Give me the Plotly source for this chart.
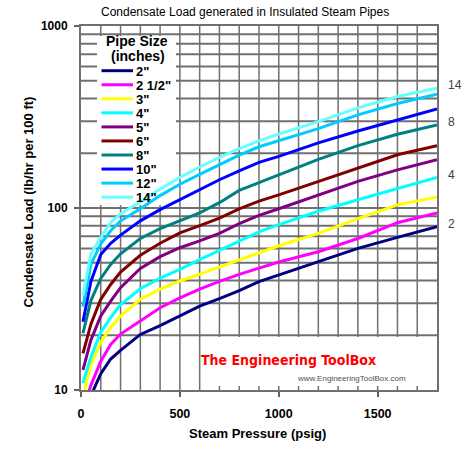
import math
import plotly.graph_objects as go

# ---- data ----
pressure = [10, 50, 100, 150, 200, 300, 400, 500, 600, 700, 800, 900, 1000, 1200, 1400, 1600, 1800]

load_2in = [6.5, 9.3, 12.3, 14.8, 16.5, 20.2, 22.6, 25.6, 28.9, 31.8, 35.2, 39.4, 42.8, 51, 60, 69, 79]
load_2_5in = [7.8, 10.6, 14.4, 17.8, 20.3, 24.0, 28.3, 32.1, 35.8, 39.5, 43.2, 46.7, 50.5, 57.5, 68, 83, 94]
load_3in = [9.2, 13.8, 18.3, 22.0, 25.5, 31.5, 35.8, 39.7, 43.3, 47.3, 52, 56.5, 62, 72.5, 87.5, 104, 115]
load_4in = [10.9, 15.2, 20.8, 25.0, 29.5, 36.0, 41.2, 46.0, 52, 58.5, 66, 74, 81, 96, 111, 128, 147]
load_5in = [12.9, 18.8, 25.5, 30.8, 36.5, 46.5, 54, 60.5, 66, 72.5, 82, 91, 99, 118, 140, 162, 184]
load_6in = [15.9, 23, 31.5, 38, 44.5, 55, 64, 73, 80, 88, 99, 109, 118, 140, 166, 196, 220]
load_8in = [20.5, 31, 41, 49, 56, 68, 77, 85, 94, 107, 125, 138, 152, 185, 220, 254, 286]
load_10in = [23.7, 39.5, 55.5, 64, 71, 85, 98, 111, 127, 143, 160, 178, 192, 228, 265, 305, 350]
load_12in = [28.7, 49, 63.5, 75, 85, 99, 117, 135, 153, 173, 195, 217, 235, 273, 325, 375, 422]
load_14in = [33, 56, 69, 83, 93, 108, 127, 147, 168, 190, 212, 234, 255, 298, 355, 410, 455]

pipe_sizes = ['2"', '2 1/2"', '3"', '4"', '5"', '6"', '8"', '10"', '12"', '14"']
series = [load_2in, load_2_5in, load_3in, load_4in, load_5in, load_6in,
          load_8in, load_10in, load_12in, load_14in]
colors = ['#000080', '#FF00FF', '#FFFF00', '#00FFFF', '#800080', '#800000',
          '#008080', '#0000FF', '#00CCFF', '#66FFFF']
end_labels = {'2"': '2', '4"': '4', '8"': '8', '14"': '14'}

x_grid = list(range(100, 1800, 100))
x_major = [0, 500, 1000, 1500]
y_grid = [20, 30, 40, 50, 60, 70, 80, 90, 100, 200, 300, 400, 500, 600, 700, 800, 900]
y_major = [10, 100, 1000]

FONT = 'Liberation Sans, Arial, sans-serif'
GRID = '#707070'
Y_RANGE = [1, 3]  # log10 range of the y axis

# plot area geometry in pixels (for placing layout decorations)
L, R, T, B = 81, 33, 26, 73
W, H = 470, 463
PW, PH = W - L - R, H - T - B


def px(xp):
    return (xp - L) / PW


def py(yp):
    return (T + PH - yp) / PH


fig = go.Figure()

for name, vals, col in zip(pipe_sizes, series, colors):
    fig.add_trace(go.Scatter(x=pressure, y=vals, mode='lines', name=name,
                             line=dict(color=col, width=3), showlegend=False))

shapes = []
annotations = []

# grid lines (drawn as shapes below the traces)
for v in x_grid:
    shapes.append(dict(type='line', xref='x', yref='paper', x0=v, x1=v, y0=0, y1=1,
                       line=dict(color=GRID, width=1.5), layer='below'))
for v in y_grid:
    yp = (math.log10(v) - Y_RANGE[0]) / (Y_RANGE[1] - Y_RANGE[0])
    shapes.append(dict(type='line', xref='paper', yref='paper', x0=0, x1=1, y0=yp, y1=yp,
                       line=dict(color=GRID, width=2), layer='below'))

# white boxes behind legend and watermark (above grid, below traces)
shapes.append(dict(type='rect', xref='paper', yref='paper',
                   x0=px(97), x1=px(176), y0=py(205), y1=py(36),
                   fillcolor='white', line=dict(width=0), layer='below'))
shapes.append(dict(type='rect', xref='paper', yref='paper',
                   x0=px(201), x1=px(435), y0=py(386), y1=py(337),
                   fillcolor='white', line=dict(width=0), layer='below'))

# manual legend
annotations.append(dict(text='<b>Pipe Size</b>', x=px(136.5), y=py(41), xref='paper', yref='paper',
                        showarrow=False, xanchor='center', yanchor='middle',
                        font=dict(family=FONT, size=14, color='black')))
annotations.append(dict(text='<b>(inches)</b>', x=px(137.5), y=py(55.5), xref='paper', yref='paper',
                        showarrow=False, xanchor='center', yanchor='middle',
                        font=dict(family=FONT, size=14, color='black')))
for i, (name, col) in enumerate(zip(pipe_sizes, colors)):
    yy = 70.7 + 14.05 * i
    shapes.append(dict(type='line', xref='paper', yref='paper',
                       x0=px(101.5), x1=px(133), y0=py(yy), y1=py(yy),
                       line=dict(color=col, width=3), layer='above'))
    annotations.append(dict(text='<b>' + name + '</b>', x=px(134), y=py(yy + 0.5),
                            xref='paper', yref='paper', showarrow=False,
                            xanchor='left', yanchor='middle',
                            font=dict(family=FONT, size=13, color='black')))

# right-hand end labels
for name, vals in zip(pipe_sizes, series):
    if name in end_labels:
        annotations.append(dict(text=end_labels[name], x=pressure[-1], y=math.log10(vals[-1]),
                                xref='x', yref='y', showarrow=False, xanchor='left',
                                yanchor='middle', xshift=9, yshift=3,
                                font=dict(family=FONT, size=12, color='#404040')))

# title and axis titles
annotations.append(dict(text='Condensate Load generated in Insulated Steam Pipes',
                        x=px(245), y=py(12), xref='paper', yref='paper', showarrow=False,
                        xanchor='center', yanchor='middle',
                        font=dict(family=FONT, size=12, color='black')))
annotations.append(dict(text='<b>Steam Pressure (psig)</b>', x=px(257.5), y=py(433),
                        xref='paper', yref='paper', showarrow=False,
                        xanchor='center', yanchor='middle',
                        font=dict(family=FONT, size=13, color='black')))
annotations.append(dict(text='<b>Condensate Load (lb/hr per 100 ft)</b>', x=px(28.5), y=py(202),
                        xref='paper', yref='paper', showarrow=False, textangle=-90,
                        xanchor='center', yanchor='middle',
                        font=dict(family=FONT, size=13, color='black')))

# watermark
annotations.append(dict(text='<b>The Engineering ToolBox</b>', x=px(288), y=py(360),
                        xref='paper', yref='paper', showarrow=False,
                        xanchor='center', yanchor='middle',
                        font=dict(family='DejaVu Sans Condensed, sans-serif',
                                  size=14, color='#FF0000')))
annotations.append(dict(text='www.EngineeringToolBox.com', x=px(351), y=py(378),
                        xref='paper', yref='paper', showarrow=False,
                        xanchor='center', yanchor='middle',
                        font=dict(family=FONT, size=8, color='#505050')))

fig.update_layout(
    width=W, height=H,
    margin=dict(l=L, r=R, t=T, b=B, pad=0),
    paper_bgcolor='white', plot_bgcolor='white',
    showlegend=False,
    shapes=shapes, annotations=annotations,
    font=dict(family=FONT, color='black'),
    xaxis=dict(range=[0, 1800], tickmode='array', tickvals=x_major,
               ticktext=['<b>%d</b>' % v for v in x_major],
               tickfont=dict(family=FONT, size=12.5, color='black'),
               ticks='outside', ticklen=5, tickcolor='#606060', tickwidth=1.5,
               ticklabelstandoff=6, showgrid=False,
               showline=True, linecolor=GRID, linewidth=2, mirror=True,
               zeroline=False),
    yaxis=dict(type='log', range=Y_RANGE, tickmode='array', tickvals=y_major,
               ticktext=['<b>%d</b>' % v for v in y_major],
               tickfont=dict(family=FONT, size=12, color='black'),
               ticks='outside', ticklen=5, tickcolor='#606060', tickwidth=1.5,
               ticklabelstandoff=4, showgrid=False,
               showline=True, linecolor=GRID, linewidth=2, mirror=True,
               zeroline=False),
)

fig.write_html('out.html')
